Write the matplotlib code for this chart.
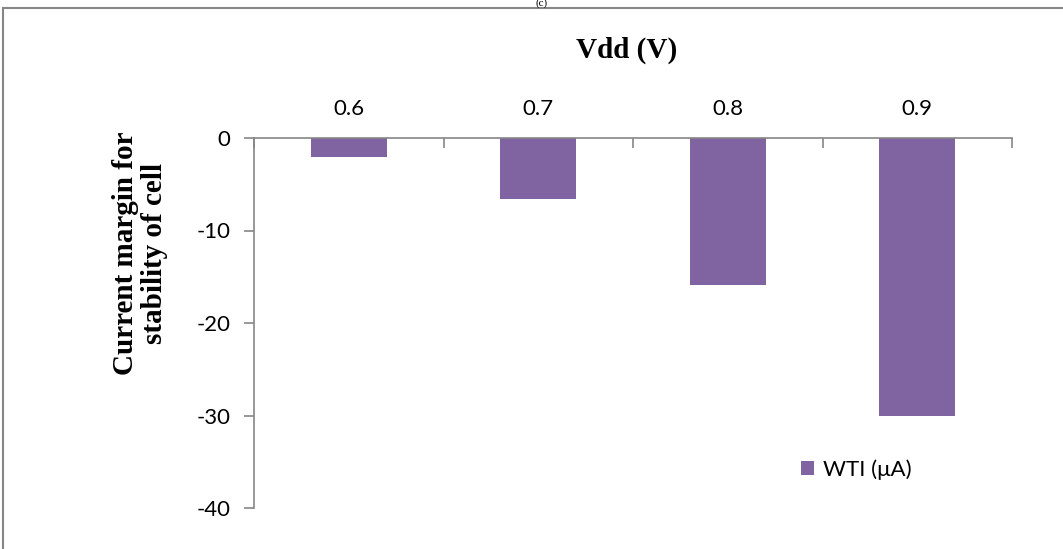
import matplotlib.pyplot as plt
from matplotlib.lines import Line2D
import numpy as np

# %% data
vdd = ['0.6', '0.7', '0.8', '0.9']
wti = [-2.0, -6.6, -15.9, -30.0]
yticks = [0, -10, -20, -30, -40]

bar_col = '#8064A2'
ax_col = '#868686'
num_font = ['Lato', 'DejaVu Sans']
lab_font = ['Liberation Serif', 'DejaVu Serif']

# %% figure
fig = plt.figure(figsize=(10.63, 5.49), dpi=100)
ax = fig.add_axes([254 / 1063, 1 - 508 / 549, (1012 - 254) / 1063, (508 - 138) / 549])

x = np.arange(len(vdd))
ax.bar(x, wti, width=0.4, color=bar_col, label='WTI (\u03bcA)', zorder=2)

ax.set_xlim(-0.5, len(vdd) - 0.5)
ax.set_ylim(-40, 0)

# category axis sits on top, ticks between categories
ax.xaxis.set_ticks_position('top')
ax.set_xticks(x)
ax.set_xticklabels(vdd, fontsize=16, family=num_font)
ax.tick_params(axis='x', which='major', length=0, pad=14)
ax.set_xticks(np.arange(-0.5, len(vdd)), minor=True)
ax.tick_params(axis='x', which='minor', direction='in', length=7, color=ax_col, width=1.2)

ax.set_yticks(yticks)
ax.set_yticklabels([str(v) for v in yticks], fontsize=16, family=num_font)
ax.tick_params(axis='y', direction='out', length=7, color=ax_col, width=1.2, pad=10)

for s in ['right', 'bottom']:
    ax.spines[s].set_visible(False)
for s in ['left', 'top']:
    ax.spines[s].set_color(ax_col)
    ax.spines[s].set_linewidth(1.2)

fig.text(627 / 1063, 1 - 50 / 549, 'Vdd (V)', ha='center', va='center',
         fontsize=21, fontweight='bold', family=lab_font)
fig.text(140 / 1063, 1 - 253 / 549, 'Current margin for\nstability of cell', ha='center', va='center',
         rotation=90, fontsize=21, fontweight='bold', family=lab_font, linespacing=1.1)

ax.legend(loc='upper left', bbox_to_anchor=(801 / 1063, 1 - 459 / 549), bbox_transform=fig.transFigure,
          frameon=False, prop={'family': num_font, 'size': 16}, handlelength=0.6, handleheight=0.6,
          handletextpad=0.4, borderaxespad=0, borderpad=0)

# outer chart frame and the caption above it
fig.add_artist(Line2D([3 / 1063, 3 / 1063], [0, 1 - 8 / 549], color=ax_col, lw=1.5, transform=fig.transFigure))
fig.add_artist(Line2D([3 / 1063, 1], [1 - 8 / 549, 1 - 8 / 549], color=ax_col, lw=1.5, transform=fig.transFigure))
fig.text(542 / 1063, 1 - 3 / 549, '(c)', ha='center', va='center', fontsize=8, family=lab_font)

fig.savefig('out.png', dpi=100)
